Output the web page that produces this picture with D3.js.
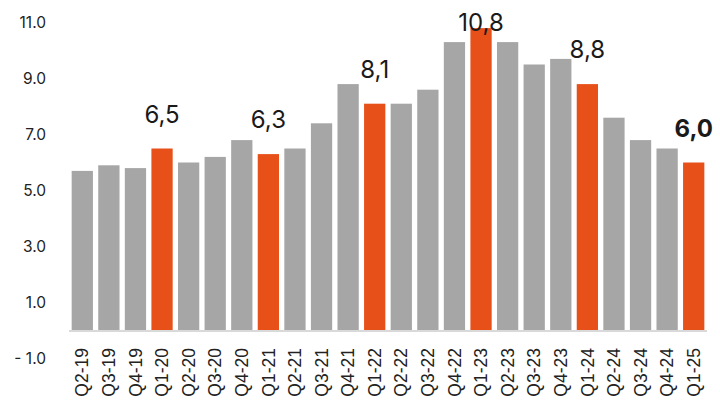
<!DOCTYPE html>
<html>
<head>
<meta charset="utf-8">
<script src="https://cdn.jsdelivr.net/npm/d3@7"></script>
<style>
  body { margin: 0; background: #fff; }
  svg { display: block; font-family: Inter, "Noto Sans", sans-serif; }
</style>
</head>
<body>
<svg id="chart" width="720" height="402"></svg>
<script>
// quarters shown on the x axis
const quarters = [
  "Q2-19", "Q3-19", "Q4-19", "Q1-20", "Q2-20", "Q3-20", "Q4-20", "Q1-21",
  "Q2-21", "Q3-21", "Q4-21", "Q1-22", "Q2-22", "Q3-22", "Q4-22", "Q1-23",
  "Q2-23", "Q3-23", "Q4-23", "Q1-24", "Q2-24", "Q3-24", "Q4-24", "Q1-25"
];
const values = [
  5.7, 5.9, 5.8, 6.5, 6.0, 6.2, 6.8, 6.3,
  6.5, 7.4, 8.8, 8.1, 8.1, 8.6, 10.3, 10.8,
  10.3, 9.5, 9.7, 8.8, 7.6, 6.8, 6.5, 6.0
];
// Q1 bars are highlighted and labelled
const highlighted = ["Q1-20", "Q1-21", "Q1-22", "Q1-23", "Q1-24", "Q1-25"];
const yTicks = [-1, 1, 3, 5, 7, 9, 11];

const data = quarters.map((q, i) => ({ q, v: values[i] }));

const svg = d3.select("#chart");

const x = d3.scaleBand()
  .domain(quarters)
  .range([69, 707])
  .paddingInner(0.2)
  .paddingOuter(0.1);

const y = d3.scaleLinear()
  .domain([-1, 11])
  .range([358.5, 22.5]);

// y tick labels, no axis line
svg.append("g")
  .selectAll("text")
  .data(yTicks)
  .enter().append("text")
    .attr("x", 46)
    .attr("y", d => y(d))
    .attr("dy", "0.35em")
    .attr("text-anchor", "end")
    .attr("font-size", 15.5)
    .attr("fill", "#222")
    .text(d => d < 0 ? "- " + d3.format(".1f")(-d) : d3.format(".1f")(d));

// bars
svg.append("g")
  .selectAll("rect")
  .data(data)
  .enter().append("rect")
    .attr("x", d => x(d.q))
    .attr("y", d => y(d.v))
    .attr("width", x.bandwidth())
    .attr("height", d => y(0) - y(d.v))
    .attr("fill", d => highlighted.includes(d.q) ? "#e8501a" : "#a6a6a6");

// baseline
svg.append("line")
  .attr("x1", x.range()[0])
  .attr("x2", x.range()[1])
  .attr("y1", y(0) + 0.5)
  .attr("y2", y(0) + 0.5)
  .attr("stroke", "#d9d9d9")
  .attr("stroke-width", 2);

// rotated quarter labels
svg.append("g")
  .selectAll("text")
  .data(quarters)
  .enter().append("text")
    .attr("transform", d => `translate(${x(d) + x.bandwidth() / 2},348) rotate(-90)`)
    .attr("dy", "0.35em")
    .attr("text-anchor", "end")
    .attr("font-family", "'Liberation Sans', Arial, sans-serif")
    .attr("font-size", 17.5)
    .attr("fill", "#222")
    .text(d => d);

// value labels above the highlighted bars
const last = quarters[quarters.length - 1];
svg.append("g")
  .selectAll("text")
  .data(data.filter(d => highlighted.includes(d.q)))
  .enter().append("text")
    .attr("x", d => x(d.q) + x.bandwidth() / 2)
    .attr("y", d => Math.max(31, y(d.v) - 26))
    .attr("text-anchor", "middle")
    .attr("font-size", 24)
    .attr("font-weight", d => d.q === last ? 700 : 400)
    .attr("fill", "#1a1a1a")
    .text(d => d3.format(".1f")(d.v).replace(".", ","));
</script>
</body>
</html>
